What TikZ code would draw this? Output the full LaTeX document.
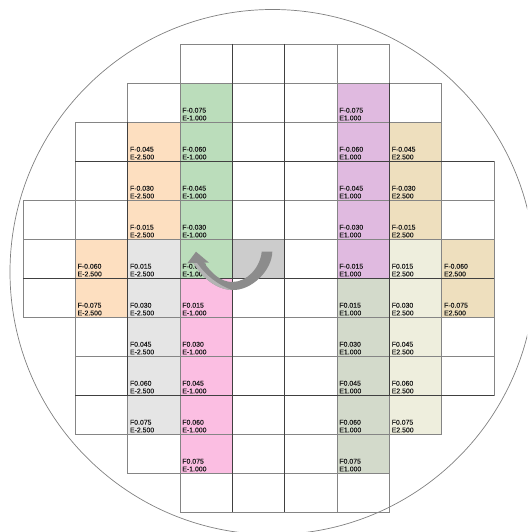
\documentclass[tikz,border=0pt]{standalone}
\usepackage{fontspec}
\setmainfont{Liberation Sans}
\newfontfamily\dieface[FakeBold=.35]{Liberation Sans}
\definecolor{gridline}{HTML}{858585}
\definecolor{gridbold}{HTML}{404040}
\definecolor{waferline}{HTML}{808080}
\definecolor{cellorange}{HTML}{FDDFC0}
\definecolor{cellgreen}{HTML}{BBDDBB}
\definecolor{cellpink}{HTML}{FBBEE2}
\definecolor{cellpurple}{HTML}{E0BAE0}
\definecolor{cellgray}{HTML}{E5E5E5}
\definecolor{cellsage}{HTML}{D3DACB}
\definecolor{celltan}{HTML}{EEDFBE}
\definecolor{cellpale}{HTML}{EEEEDD}
\definecolor{cellpivot}{HTML}{CCCCCC}
\definecolor{arrowgray}{HTML}{8C8C8C}
\definecolor{arrowlight}{HTML}{B4B4B4}
\tikzset{
	dielabel/.style={anchor=south west,inner sep=0pt,align=left,text=black!90,
		font=\dieface\fontsize{6.9}{7.7}\selectfont},
	dieline/.style={draw=gridline,line width=.8pt},
	dieheavy/.style={draw=gridbold,line width=.8pt}
}
\newcommand{\diefill}[5]{\fill[#3] (#1,#2) rectangle ++(1,1);
	\node[dielabel] (l#1-#2) at (#1+.04,#2+.965) {F#4\\E#5}}

\begin{document}
\begin{tikzpicture}[x=1pt,y=-1pt]
	\useasboundingbox (0,0) rectangle (527,532);
	\clip (0,0) rectangle (527,532);
	\draw[draw=waferline,line width=.7pt] (272.5,272) circle (262.5);
	\begin{scope}[shift={(23,44)},x=52.35pt,y=-39pt]
		% filled dies, left half
		\foreach \row/\fv in {2/-0.045,3/-0.030,4/-0.015}
			{\diefill{2}{\row}{cellorange}{\fv}{-2.500};}
		\foreach \row/\fv in {5/-0.060,6/-0.075}
			{\diefill{1}{\row}{cellorange}{\fv}{-2.500};}
		\foreach \row/\fv in {5/0.015,6/0.030,7/0.045,8/0.060,9/0.075}
			{\diefill{2}{\row}{cellgray}{\fv}{-2.500};}
		\foreach \row/\fv in {1/-0.075,2/-0.060,3/-0.045,4/-0.030,5/-0.015}
			{\diefill{3}{\row}{cellgreen}{\fv}{-1.000};}
		\foreach \row/\fv in {6/0.015,7/0.030,8/0.045,9/0.060,10/0.075}
			{\diefill{3}{\row}{cellpink}{\fv}{-1.000};}
		% filled dies, right half
		\foreach \row/\fv in {1/-0.075,2/-0.060,3/-0.045,4/-0.030,5/-0.015}
			{\diefill{6}{\row}{cellpurple}{\fv}{1.000};}
		\foreach \row/\fv in {6/0.015,7/0.030,8/0.045,9/0.060,10/0.075}
			{\diefill{6}{\row}{cellsage}{\fv}{1.000};}
		\foreach \row/\fv in {2/-0.045,3/-0.030,4/-0.015}
			{\diefill{7}{\row}{celltan}{\fv}{2.500};}
		\foreach \row/\fv in {5/0.015,6/0.030,7/0.045,8/0.060,9/0.075}
			{\diefill{7}{\row}{cellpale}{\fv}{2.500};}
		\foreach \row/\fv in {5/-0.060,6/-0.075}
			{\diefill{8}{\row}{celltan}{\fv}{2.500};}
		\fill[cellpivot] (4,5) rectangle ++(1,1);
		% die outlines
		\foreach \col/\first/\last in {0/4/6,1/2/9,2/1/10,3/0/11,4/0/11,5/0/11,6/0/11,7/1/9,8/3/8}
			\foreach \row in {\first,...,\last}
				\draw[dieline] (\col,\row) rectangle ++(1,1);
		% heavier lines every third step
		\draw[dieheavy] (1,3) -- (9,3);
		\draw[dieheavy] (0,6) -- (9,6);
		\draw[dieheavy] (1,9) -- (9,9);
		\draw[dieheavy] (2,2) -- (2,9);
		\draw[dieheavy] (4,0) -- (4,12);
		\draw[dieheavy] (5,0) -- (5,12);
		\draw[dieheavy] (7,1) -- (7,9);
	\end{scope}
	% turning arrow
	\fill[arrowgray] (272.3,251.7) .. controls (272,270) and (252,291) .. (231.7,290)
		.. controls (215,289) and (202,277) .. (193.5,263)
		-- (187.3,263.3) -- (196,251.7) -- (209,262.7) -- (204,262.5)
		.. controls (211,273) and (221,282) .. (232,282)
		.. controls (247,282) and (260,268) .. (261.7,251.7) -- cycle;
	\fill[arrowlight] (231.7,290) .. controls (215,289) and (202,277) .. (193.5,263)
		-- (197,263) .. controls (205,275) and (218,285) .. (231.7,290) -- cycle;
\end{tikzpicture}
\end{document}
